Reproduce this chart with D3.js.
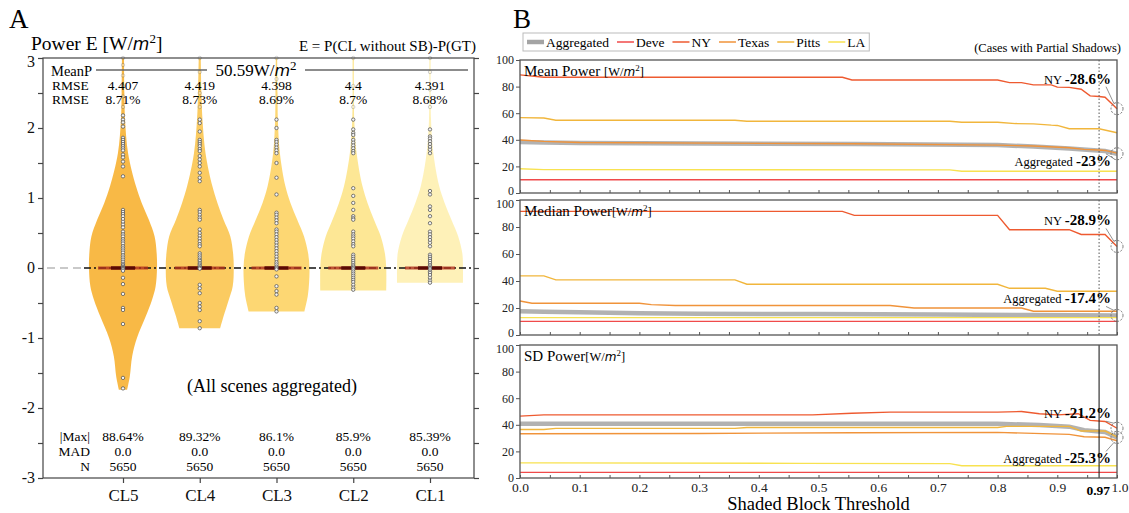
<!DOCTYPE html>
<html>
<head>
<meta charset="utf-8">
<script src="https://cdn.jsdelivr.net/npm/d3@7"></script>
<style>
  body { margin: 0; background: #fff; }
  svg { font-family: "Liberation Serif", "Times New Roman", serif; }
</style>
</head>
<body>
<svg id="chart" width="1129" height="513"></svg>
<script>
"use strict"

// ---------- panel A data ----------
const groups = ["CL5", "CL4", "CL3", "CL2", "CL1"];
const groupColors = ["#f8b53c", "#fbc858", "#fdd56c", "#fde68f", "#fef0b4"];
const rmseValues = ["4.407", "4.419", "4.398", "4.4", "4.391"];
const rmsePercent = ["8.71%", "8.73%", "8.69%", "8.7%", "8.68%"];
const maxAbs = ["88.64%", "89.32%", "86.1%", "85.9%", "85.39%"];
const madValues = ["0.0", "0.0", "0.0", "0.0", "0.0"];
const countValues = ["5650", "5650", "5650", "5650", "5650"];
const meanPower = "50.59";

// violin outlines: [error value, relative half width]
const cl5Violin = [[-1.74, 0.12], [-1.55, 0.2], [-1.26, 0.27], [-1, 0.41], [-0.69, 0.67], [-0.46, 0.85], [-0.26, 0.96], [0, 1], [0.21, 0.99], [0.45, 0.93], [0.69, 0.76], [0.93, 0.55], [1.17, 0.38], [1.64, 0.15], [2.12, 0.06], [2.5, 0.04], [3, 0.03]];
const cl4Violin = [[-0.86, 0.6], [-0.69, 0.7], [-0.46, 0.85], [-0.26, 0.97], [0, 1], [0.21, 0.98], [0.45, 0.9], [0.69, 0.7], [0.93, 0.52], [1.17, 0.37], [1.64, 0.17], [2.12, 0.08], [2.5, 0.05], [3, 0.03]];
const cl3Violin = [[-0.62, 0.82], [-0.4, 0.92], [-0.2, 0.96], [0, 0.97], [0.21, 0.93], [0.45, 0.81], [0.69, 0.61], [0.93, 0.41], [1.17, 0.26], [1.64, 0.1], [2.12, 0.04], [2.5, 0.03], [3, 0.02]];
const cl2Violin = [[-0.32, 0.97], [0, 0.97], [0.21, 0.93], [0.45, 0.81], [0.69, 0.61], [0.93, 0.42], [1.17, 0.27], [1.64, 0.1], [2.12, 0.03], [3, 0.02]];
const cl1Violin = [[-0.21, 0.97], [0, 0.97], [0.21, 0.95], [0.45, 0.83], [0.69, 0.63], [0.93, 0.43], [1.17, 0.27], [1.64, 0.1], [2.12, 0.03], [3, 0.02]];

// scattered error points along each violin
const cl5Points = [3.0, 2.9, 2.75, 2.6, 2.45, 2.3, 2.18, 2.12, 2.08, 2.02, 1.86, 1.83, 1.8, 1.77, 1.74, 1.71, 1.68, 1.62, 1.58, 1.52, 1.45, 1.31, 0.83, 0.8, 0.77, 0.74, 0.7, 0.66, 0.62, 0.58, 0.52, 0.48, 0.45, 0.41, 0.38, 0.35, 0.31, 0.28, 0.25, 0.22, 0.18, 0.15, 0.12, 0.09, 0.06, 0.04, 0.02, 0.01, 0, -0.01, -0.02, -0.04, -0.14, -0.23, -0.37, -0.57, -0.6, -0.8, -1.57, -1.72];
const cl4Points = [3.0, 2.8, 2.5, 2.3, 2.12, 2.07, 1.95, 1.83, 1.8, 1.77, 1.74, 1.7, 1.67, 1.6, 1.55, 1.5, 1.45, 1.36, 1.29, 1.24, 0.83, 0.8, 0.76, 0.72, 0.69, 0.55, 0.5, 0.46, 0.42, 0.38, 0.34, 0.31, 0.21, 0.18, 0.15, 0.12, 0.1, 0.07, 0.05, 0.03, 0.01, 0, -0.01, -0.24, -0.29, -0.36, -0.5, -0.55, -0.6, -0.76, -0.86];
const cl3Points = [3.0, 2.7, 2.4, 2.12, 2.0, 1.83, 1.8, 1.76, 1.72, 1.68, 1.64, 1.5, 1.29, 1.05, 0.79, 0.76, 0.72, 0.68, 0.64, 0.55, 0.52, 0.48, 0.44, 0.4, 0.36, 0.32, 0.28, 0.24, 0.2, 0.16, 0.12, 0.08, 0.05, 0.02, 0, -0.02, -0.12, -0.26, -0.33, -0.38, -0.57, -0.62];
const cl2Points = [3.0, 2.6, 2.3, 2.12, 1.98, 1.93, 1.9, 1.83, 1.79, 1.75, 1.71, 1.67, 1.64, 1.14, 1.03, 0.93, 0.83, 0.74, 0.71, 0.69, 0.52, 0.48, 0.45, 0.42, 0.38, 0.34, 0.31, 0.19, 0.16, 0.13, 0.1, 0.07, 0.04, 0.02, 0, -0.02, -0.05, -0.08, -0.11, -0.14, -0.17, -0.2, -0.24, -0.28, -0.31];
const cl1Points = [3.0, 2.8, 2.55, 2.3, 1.98, 1.88, 1.85, 1.81, 1.77, 1.73, 1.69, 1.64, 1.1, 1.05, 0.88, 0.83, 0.74, 0.64, 0.52, 0.48, 0.44, 0.4, 0.36, 0.31, 0.19, 0.16, 0.13, 0.1, 0.07, 0.04, 0.02, 0, -0.02, -0.05, -0.07, -0.1, -0.14, -0.18, -0.21];

// ---------- panel B data: [threshold, power] ----------
const seriesNames = ["Aggregated", "Deve", "NY", "Texas", "Pitts", "LA"];
const seriesColors = ["#a4a4a4", "#f04a4a", "#ee5a30", "#f0933a", "#f1b63c", "#f8e250"];

const meanAggregated = [[0, 38.3], [0.04, 38], [0.1, 37.6], [0.3, 37.3], [0.56, 36.8], [0.8, 36], [0.86, 35], [0.92, 33.5], [0.955, 32.3], [0.98, 31.5], [1, 29.5]];
const meanDeve = [[0, 10], [1, 10]];
const meanNY = [[0, 88.8], [0.04, 87], [0.54, 87], [0.556, 85], [0.8, 85], [0.82, 83], [0.84, 83], [0.86, 81.3], [0.89, 81.3], [0.9, 79.6], [0.92, 79.4], [0.94, 78], [0.955, 73], [0.97, 72.6], [0.98, 72], [1, 63.4]];
const meanTexas = [[0, 39.8], [0.04, 38.8], [0.1, 38], [0.56, 37], [0.8, 36], [0.86, 35.3], [0.92, 34], [0.945, 32.8], [0.97, 32.3], [0.98, 32], [1, 30]];
const meanPitts = [[0, 56.7], [0.04, 56.4], [0.06, 54.7], [0.36, 54.7], [0.38, 54], [0.72, 54], [0.74, 53.2], [0.8, 53.2], [0.83, 52.2], [0.86, 52], [0.89, 51], [0.9, 50.8], [0.92, 48.3], [0.97, 48.3], [1, 45.3]];
const meanLA = [[0, 18.2], [0.04, 17.6], [0.72, 17.4], [0.74, 16.4], [1, 16.4]];

const medianAggregated = [[0, 17.6], [0.04, 17.3], [0.1, 16.8], [0.2, 16.1], [0.3, 15.7], [0.5, 15.5], [0.7, 15.2], [0.85, 14.8], [1, 14.5]];
const medianDeve = [[0, 10.1], [1, 10.1]];
const medianNY = [[0, 91.6], [0.54, 91.6], [0.56, 88.6], [0.8, 88.6], [0.82, 78], [0.92, 78], [0.94, 74.5], [0.98, 74.5], [1, 65.6]];
const medianTexas = [[0, 25.2], [0.02, 23.5], [0.2, 23.5], [0.22, 22.5], [0.26, 21.8], [0.62, 21.8], [0.66, 20], [0.84, 20], [0.86, 17.6], [1, 17.6]];
const medianPitts = [[0, 43.8], [0.04, 43.8], [0.06, 40.8], [0.36, 40.8], [0.38, 37.6], [0.8, 37.6], [0.82, 34.6], [0.88, 34.6], [0.9, 32.4], [1, 32.4]];
const medianLA = [[0, 12.9], [1, 12.9]];

const sdAggregated = [[0, 40.8], [0.8, 40.8], [0.87, 39.8], [0.92, 38.6], [0.945, 36], [0.97, 35], [0.98, 34.6], [1, 30.5]];
const sdDeve = [[0, 4.2], [1, 4.2]];
const sdNY = [[0, 46.5], [0.04, 47.5], [0.49, 47.5], [0.556, 48.7], [0.62, 49.5], [0.8, 49.5], [0.84, 50], [0.87, 48.3], [0.9, 47.5], [0.935, 48.3], [0.955, 43.3], [0.98, 42.5], [1, 37.4]];
const sdTexas = [[0, 33.3], [0.3, 33.5], [0.556, 34], [0.8, 34.3], [0.92, 32.8], [0.945, 31], [0.98, 30.6], [1, 28]];
const sdPitts = [[0, 36.5], [0.04, 36.5], [0.06, 37.3], [0.36, 37.3], [0.38, 38], [0.8, 38], [0.815, 38.8], [0.92, 38.8], [0.94, 35.3], [0.98, 35.3], [1, 31]];
const sdLA = [[0, 11.4], [0.04, 11.4], [0.47, 11], [0.72, 10.8], [0.74, 9.2], [1, 9.2]];

const meanNotes = ["-28.6%", "-23%"];
const medianNotes = ["-28.9%", "-17.4%"];
const sdNotes = ["-21.2%", "-25.3%"];
const markedThreshold = 0.97;

const svg = d3.select("#chart");

// =============== Panel A ===============
const frameA = { left: 43, right: 474, top: 58, bottom: 478 };
const yA = d3.scaleLinear().domain([-3, 3]).range([frameA.bottom, frameA.top]);
const xA = d3.scalePoint().domain(groups).range([123, 430]);
const halfW = d3.scaleLinear().domain([0, 1]).range([0, 34]);

svg.append("text").attr("x", 9).attr("y", 28).attr("font-size", 27).text("A");

const titleA = svg.append("text").attr("x", 31).attr("y", 50).attr("font-size", 19.5);
titleA.append("tspan").text("Power E [W/");
titleA.append("tspan").attr("font-family", "DejaVu Sans").attr("font-style", "italic").attr("font-size", 17).text("m");
titleA.append("tspan").attr("font-size", 13).attr("dy", -7).text("2");
titleA.append("tspan").attr("dy", 7).text("]");

svg.append("text").attr("x", 476).attr("y", 51).attr("text-anchor", "end")
  .attr("font-size", 15).text("E = P(CL without SB)-P(GT)");

// violins
const violins = [cl5Violin, cl4Violin, cl3Violin, cl2Violin, cl1Violin];
const points = [cl5Points, cl4Points, cl3Points, cl2Points, cl1Points];

const gA = svg.append("g");
gA.append("line").attr("x1", frameA.left + 4).attr("x2", 84).attr("y1", yA(0)).attr("y2", yA(0))
  .attr("stroke", "#b8b8b8").attr("stroke-width", 1.6).attr("stroke-dasharray", "8,5");

groups.forEach((g, i) => {
  const cx = xA(g);
  const area = d3.area()
    .y(d => yA(d[0]))
    .x0(d => cx - halfW(d[1]))
    .x1(d => cx + halfW(d[1]))
    .curve(d3.curveCatmullRom.alpha(0.5));
  gA.append("path").datum(violins[i]).attr("d", area)
    .attr("fill", groupColors[i]).attr("opacity", 0.95);
});

gA.append("line").attr("x1", 84).attr("x2", frameA.right).attr("y1", yA(0)).attr("y2", yA(0))
  .attr("stroke", "#111").attr("stroke-width", 1.3).attr("stroke-dasharray", "7,3,2,3");

groups.forEach((g, i) => {
  const cx = xA(g);
  gA.append("line").attr("x1", cx - 25).attr("x2", cx + 25).attr("y1", yA(0)).attr("y2", yA(0))
    .attr("stroke", "#b0301c").attr("stroke-width", 3).attr("opacity", 0.8);
  gA.append("line").attr("x1", cx - 12).attr("x2", cx + 12).attr("y1", yA(0)).attr("y2", yA(0))
    .attr("stroke", "#5a0a04").attr("stroke-width", 3.4);
  gA.selectAll(null).data(points[i]).enter().append("circle")
    .attr("cx", cx).attr("cy", d => yA(d)).attr("r", 1.7)
    .attr("fill", "#f4f4f4").attr("stroke", "#5a5a5a").attr("stroke-width", 0.8)
    .attr("opacity", d => d > 2.2 ? 0.35 : 1);
});

// frame and axes
gA.append("rect").attr("x", frameA.left).attr("y", frameA.top)
  .attr("width", frameA.right - frameA.left).attr("height", frameA.bottom - frameA.top)
  .attr("fill", "none").attr("stroke", "#444").attr("stroke-width", 1.2);

const halfSteps = d3.range(-3, 3.01, 0.5);
const axL = gA.append("g").attr("transform", `translate(${frameA.left},0)`)
  .call(d3.axisLeft(yA).tickValues(halfSteps).tickSize(5).tickPadding(3)
    .tickFormat(d => Number.isInteger(d) ? d : ""));
const axR = gA.append("g").attr("transform", `translate(${frameA.right},0)`)
  .call(d3.axisRight(yA).tickValues(halfSteps).tickSize(5).tickFormat(""));
const axB = gA.append("g").attr("transform", `translate(0,${frameA.bottom})`)
  .call(d3.axisBottom(xA).tickSize(5).tickPadding(6));
[axL, axR, axB].forEach(a => {
  a.select(".domain").remove();
  a.selectAll("line").attr("stroke", "#444").attr("stroke-width", 1.2);
  a.selectAll("text").attr("font-family", "Liberation Serif").attr("fill", "#111");
});
axL.selectAll("text").attr("font-size", 16).attr("dy", "0.3em");
axL.selectAll(".tick").filter(d => d === 3).select("text").attr("dy", "0.5em");
axB.selectAll("text").attr("font-size", 17);

// header rows
gA.append("text").attr("x", 51).attr("y", 76).attr("font-size", 14.5).text("MeanP");
gA.append("line").attr("x1", 96).attr("x2", 207).attr("y1", 70).attr("y2", 70).attr("stroke", "#666").attr("stroke-width", 1.3);
gA.append("line").attr("x1", 305).attr("x2", 468).attr("y1", 70).attr("y2", 70).attr("stroke", "#666").attr("stroke-width", 1.3);
const mp = gA.append("text").attr("x", 256).attr("y", 76).attr("text-anchor", "middle").attr("font-size", 17);
mp.append("tspan").text(meanPower + "W/");
mp.append("tspan").attr("font-family", "DejaVu Sans").attr("font-style", "italic").attr("font-size", 16).text("m");
mp.append("tspan").attr("font-size", 13).attr("dy", -6).text("2");

const rowFont = 13.5;
gA.append("text").attr("x", 52).attr("y", 90).attr("font-size", rowFont).text("RMSE");
gA.append("text").attr("x", 52).attr("y", 104).attr("font-size", rowFont).text("RMSE");

function valueRow(values, y) {
  gA.selectAll(null).data(values).enter().append("text")
    .attr("x", (d, i) => xA(groups[i])).attr("y", y)
    .attr("text-anchor", "middle").attr("font-size", rowFont).text(d => d);
}
valueRow(rmseValues, 90);
valueRow(rmsePercent, 104);

gA.append("text").attr("x", 272).attr("y", 392).attr("text-anchor", "middle")
  .attr("font-size", 18).text("(All scenes aggregated)");

[["|Max|", maxAbs, 441], ["MAD", madValues, 456], ["N", countValues, 471]].forEach(r => {
  gA.append("text").attr("x", 90).attr("y", r[2]).attr("text-anchor", "end").attr("font-size", rowFont).text(r[0]);
  valueRow(r[1], r[2]);
});

// =============== Panel B ===============
const xB = d3.scaleLinear().domain([0, 1]).range([520, 1117]);
const panelsB = [
  { title: "Mean Power ", top: 60, bottom: 193, series: [meanAggregated, meanDeve, meanNY, meanTexas, meanPitts, meanLA], notes: meanNotes, noteDy: [-25, 12], guide: "1.5,2" },
  { title: "Median Power", top: 200, bottom: 335, series: [medianAggregated, medianDeve, medianNY, medianTexas, medianPitts, medianLA], notes: medianNotes, noteDy: [-21, -12], guide: "1.5,2" },
  { title: "SD Power", top: 345, bottom: 478, series: [sdAggregated, sdDeve, sdNY, sdTexas, sdPitts, sdLA], notes: sdNotes, noteDy: [-10, 26], guide: null }
];

svg.append("text").attr("x", 513).attr("y", 28).attr("font-size", 27).text("B");
svg.append("text").attr("x", 1121).attr("y", 52).attr("text-anchor", "end").attr("font-size", 12.5).text("(Cases with Partial Shadows)");

panelsB.forEach((p, pi) => {
  const y = d3.scaleLinear().domain([0, 100]).range([p.bottom, p.top]);
  const g = svg.append("g");
  const line = d3.line().x(d => xB(d[0])).y(d => y(d[1]));

  p.series.forEach((s, si) => {
    g.append("path").datum(s).attr("d", line).attr("fill", "none")
      .attr("stroke", seriesColors[si])
      .attr("stroke-width", si === 0 ? 4.5 : 1.4)
      .attr("opacity", si === 0 ? 0.85 : 1);
  });

  g.append("line").attr("x1", xB(markedThreshold)).attr("x2", xB(markedThreshold))
    .attr("y1", p.top).attr("y2", p.bottom)
    .attr("stroke", p.guide ? "#555" : "#222").attr("stroke-width", p.guide ? 1 : 1.1)
    .attr("stroke-dasharray", p.guide);

  g.append("rect").attr("x", xB(0)).attr("y", p.top).attr("width", xB(1) - xB(0)).attr("height", p.bottom - p.top)
    .attr("fill", "none").attr("stroke", "#555").attr("stroke-width", 1.3);

  const ay = g.append("g").attr("transform", `translate(${xB(0)},0)`)
    .call(d3.axisLeft(y).tickValues([0, 20, 40, 60, 80, 100]).tickSize(4).tickPadding(2));
  ay.select(".domain").remove();
  ay.selectAll("line").attr("stroke", "#555");
  ay.selectAll("text").attr("font-family", "Liberation Serif").attr("font-size", 12).attr("fill", "#222");
  // keep the 0 / 100 labels of stacked panels apart
  ay.selectAll(".tick").filter(d => d === 0 && pi < 2).select("text").attr("dy", "0.1em");
  ay.selectAll(".tick").filter(d => d === 100 && pi > 0).select("text").attr("dy", "0.6em");

  const ax = g.append("g").attr("transform", `translate(0,${p.bottom})`)
    .call(d3.axisTop(xB).ticks(20).tickSize(3).tickFormat(""));
  ax.select(".domain").remove();
  ax.selectAll("line").attr("stroke", "#555");

  const tt = g.append("text").attr("x", 524).attr("y", p.top + 16).attr("font-size", 15);
  tt.append("tspan").text(p.title);
  tt.append("tspan").attr("font-size", 12.5).text("[W/");
  tt.append("tspan").attr("font-size", 12).attr("font-family", "DejaVu Sans").attr("font-style", "italic").text("m");
  tt.append("tspan").attr("font-size", 9).attr("dy", -5).text("2");
  tt.append("tspan").attr("font-size", 12.5).attr("dy", 5).text("]");

  // end-point annotations: NY and Aggregated
  [[2, "NY "], [0, "Aggregated "]].forEach((n, k) => {
    const s = p.series[n[0]];
    const cx = xB(s[s.length - 1][0]);
    const cy = y(s[s.length - 1][1]);
    g.append("circle").attr("cx", cx).attr("cy", cy).attr("r", 6)
      .attr("fill", "none").attr("stroke", "#666").attr("stroke-width", 0.9).attr("stroke-dasharray", "2,1.5");
    const ly = cy + p.noteDy[k];
    const lx = 1111;
    const t = g.append("text").attr("x", lx).attr("y", ly).attr("text-anchor", "end");
    t.append("tspan").attr("font-size", 12.5).text(n[1]);
    t.append("tspan").attr("font-size", 15).attr("font-weight", "bold").text(p.notes[k]);
    const above = p.noteDy[k] < 0;
    g.append("line").attr("x1", lx - 5).attr("y1", above ? ly + 3 : ly - 12)
      .attr("x2", cx - 3).attr("y2", above ? cy - 5 : cy + 5)
      .attr("stroke", "#777").attr("stroke-width", 0.8);
  });

  if (pi === panelsB.length - 1) {
    const labels = g.append("g").attr("transform", `translate(0,${p.bottom})`)
      .call(d3.axisBottom(xB).ticks(10).tickSize(0).tickPadding(4).tickFormat(d3.format(".1f")));
    labels.select(".domain").remove();
    labels.selectAll("text").attr("font-family", "Liberation Serif").attr("font-size", 13.5).attr("fill", "#222");
    labels.selectAll(".tick").filter(d => d === 1).select("text").attr("text-anchor", "start").attr("x", -6);
    g.append("text").attr("x", xB(markedThreshold) + 11).attr("y", p.bottom + 17).attr("text-anchor", "end")
      .attr("font-size", 13.5).attr("font-weight", "bold").text(markedThreshold);
    g.append("text").attr("x", xB(0.5)).attr("y", 510).attr("text-anchor", "middle")
      .attr("font-size", 18.5).text("Shaded Block Threshold");
  }
});

// legend
const legend = svg.append("g");
const legendBox = legend.append("rect").attr("x", 523).attr("y", 33).attr("height", 18)
  .attr("fill", "#fff").attr("stroke", "#bbb").attr("stroke-width", 1);
let lxPos = 527;
seriesNames.forEach((name, i) => {
  legend.append("line").attr("x1", lxPos).attr("x2", lxPos + 17).attr("y1", 42).attr("y2", 42)
    .attr("stroke", seriesColors[i]).attr("stroke-width", i === 0 ? 4.5 : 1.5);
  const t = legend.append("text").attr("x", lxPos + 19).attr("y", 47).attr("font-size", 13.5).text(name);
  lxPos += 19 + t.node().getComputedTextLength() + 8;
});
legendBox.attr("width", lxPos - 523 - 4);
</script>
</body>
</html>
